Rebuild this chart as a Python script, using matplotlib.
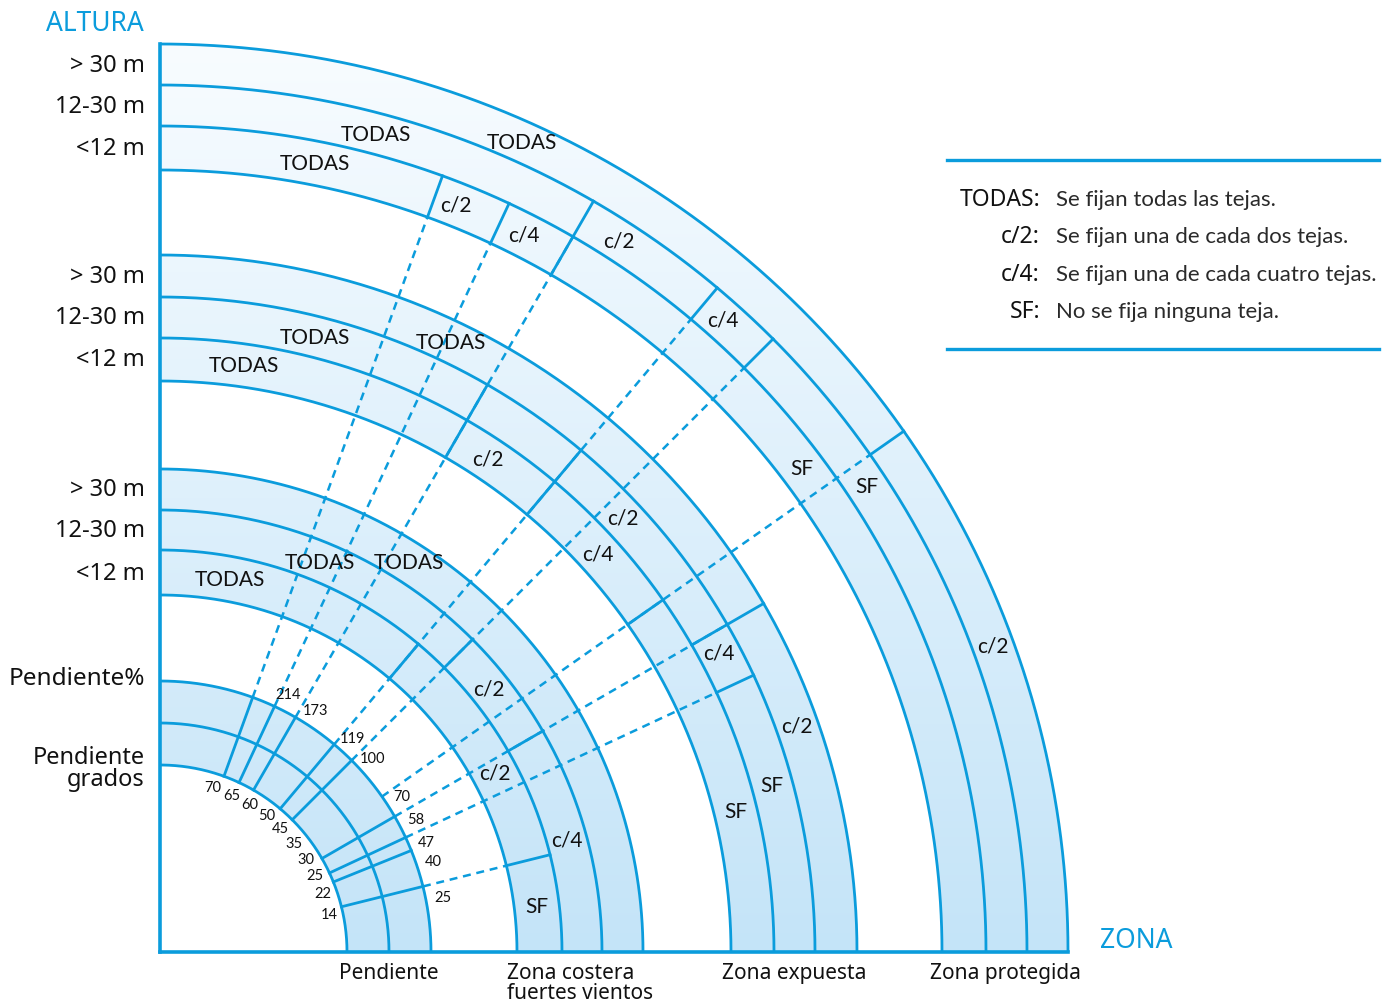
import numpy as np
import matplotlib
matplotlib.use("Agg")
import matplotlib.pyplot as plt
from matplotlib.path import Path
from matplotlib.patches import PathPatch

plt.rcParams['font.family'] = ['Lato', 'DejaVu Sans']
SIDE_FONT = ['Noto Sans', 'DejaVu Sans']

# ---------------- data ----------------
zone_names = ["Pendiente", "Zona costera\nfuertes vientos", "Zona expuesta", "Zona protegida"]
height_names = ["<12 m", "12-30 m", "> 30 m"]
slope_deg = [70, 65, 60, 50, 45, 35, 30, 25, 22, 14]
slope_pct = [214, 173, 119, 100, 70, 58, 47, 40, 25]
pct_deg = [65, 60, 50, 45, 35, 30, 25, 22, 14]
pend_line_deg = [70, 65, 60, 50, 45, 30, 25, 22, 14]

# per zone, per height band (<12, 12-30, >30): slope limits (deg) and class of each slice (from 0 deg upward)
costera_bounds = [[14, 50], [30, 45], []]
costera_classes = [["SF", "c/2", "TODAS"], ["c/4", "c/2", "TODAS"], ["TODAS"]]
expuesta_bounds = [[35, 50, 60], [25, 30, 50, 60], [30]]
expuesta_classes = [["SF", "c/4", "c/2", "TODAS"], ["SF", "c/4", "c/2", "", "TODAS"], ["c/2", "TODAS"]]
protegida_bounds = [[60, 65, 70], [45, 50, 60], [35]]
protegida_classes = [["SF", "c/4", "c/2", "TODAS"], ["SF", "c/4", "c/2", "TODAS"], ["c/2", "TODAS"]]

legend_terms = ["TODAS:", "c/2:", "c/4:", "SF:"]
legend_texts = ["Se fijan todas las tejas.", "Se fijan una de cada dos tejas.",
                "Se fijan una de cada cuatro tejas.", "No se fija ninguna teja."]

# ---------------- layout ----------------
BLUE = "#0b9cdc"
pend_r = [187, 229, 271]
zone_r = [[357, 402, 442, 483], [571, 614, 655, 697], [782, 826, 867, 908]]
zone_bounds = [costera_bounds, expuesta_bounds, protegida_bounds]
zone_classes = [costera_classes, expuesta_classes, protegida_classes]
costera_lab_ang = [[7.0, 28.2, 79.4], [15.4, 38.7, 67.7], [57.5]]
expuesta_lab_ang = [[13.8, 42.3, 56.4, 81.9], [15.3, 28.2, 43.2, None, 75.9], [19.6, 64.5]]
protegida_lab_ang = [[37.0, 63.1, 68.4, 78.9], [33.4, 48.3, 57.2, 75.2], [20.2, 65.9]]
zone_lab_ang = [costera_lab_ang, expuesta_lab_ang, protegida_lab_ang]
deg_label_ang = [72.2, 65.5, 58.6, 52.1, 45.9, 39.2, 32.6, 26.4, 20.1, 12.65]
pct_label_ang = [63.6, 57.3, 48.1, 42.4, 32.9, 27.4, 22.5, 18.4, 11.1]

W, H = 1392, 1003
OX, OY = 160, 953  # origin in pixels
fig = plt.figure(figsize=(W / 100, H / 100), dpi=100)
ax = fig.add_axes([0, 0, 1, 1])
ax.axis('off')


def pol(r, a):
    t = np.radians(a)
    return r * np.cos(t), r * np.sin(t)


def sector_path(r0, r1, n=240):
    t = np.radians(np.linspace(0, 90, n))
    outer = np.c_[r1 * np.cos(t), r1 * np.sin(t)]
    inner = np.c_[r0 * np.cos(t[::-1]), r0 * np.sin(t[::-1])]
    verts = np.concatenate([outer, inner, outer[:1]])
    codes = [Path.MOVETO] + [Path.LINETO] * (len(verts) - 2) + [Path.CLOSEPOLY]
    return Path(verts, codes)


# gradient fill clipped to the bands
paths = [sector_path(pend_r[0], pend_r[-1])] + [sector_path(zr[0], zr[-1]) for zr in zone_r]
comp = Path.make_compound_path(*paths)
clip = PathPatch(comp, transform=ax.transData, facecolor='none', edgecolor='none')
ax.add_patch(clip)
g = np.linspace(0, 1, 256)[:, None, None]
top = np.array([248, 252, 255]) / 255
bot = np.array([196, 228, 248]) / 255
img = top + (bot - top) * g
rmax = zone_r[-1][-1]
im = ax.imshow(img, extent=(0, rmax, 0, rmax), origin='upper', aspect='auto',
               interpolation='bilinear', zorder=1)
im.set_clip_path(clip)

# arcs
t = np.radians(np.linspace(0, 90, 400))
for r in pend_r + [r for zr in zone_r for r in zr]:
    ax.plot(r * np.cos(t), r * np.sin(t), color=BLUE, lw=2.0, zorder=3, solid_capstyle='butt')

# dashed slope lines
for a in slope_deg:
    ends = [zr[i] for zr, zb in zip(zone_r, zone_bounds) for i, b in enumerate(zb) if a in b]
    if not ends:
        continue
    r_end = max(ends)
    x0, y0 = pol(pend_r[-1], a)
    x1, y1 = pol(r_end, a)
    ax.plot([x0, x1], [y0, y1], color=BLUE, lw=1.8, dashes=(3.2, 2.3), zorder=2)

# solid radial limits
for a in pend_line_deg:
    x0, y0 = pol(pend_r[0], a)
    x1, y1 = pol(pend_r[-1], a)
    ax.plot([x0, x1], [y0, y1], color=BLUE, lw=2.0, zorder=3)
for zr, zb in zip(zone_r, zone_bounds):
    for i, b in enumerate(zb):
        for a in b:
            x0, y0 = pol(zr[i], a)
            x1, y1 = pol(zr[i + 1], a)
            ax.plot([x0, x1], [y0, y1], color=BLUE, lw=2.0, zorder=3)

# class labels
for zr, zc, za in zip(zone_r, zone_classes, zone_lab_ang):
    for i in range(3):
        rc = (zr[i] + zr[i + 1]) / 2
        for cls, a in zip(zc[i], za[i]):
            if not cls or a is None:
                continue
            x, y = pol(rc, a)
            ax.text(x, y, cls, fontsize=15, ha='center', va='center', color='#111111', zorder=5)

# slope labels
for v, a in zip(slope_deg, deg_label_ang):
    x, y = pol(173, a)
    ax.text(x, y, str(v), fontsize=10.5, ha='center', va='center', color='#111111', zorder=5)
for v, a in zip(slope_pct, pct_label_ang):
    x, y = pol(288, a)
    ax.text(x, y, str(v), fontsize=10.5, ha='center', va='center', color='#111111', zorder=5)

# axes lines
ax.plot([0, 0], [0, rmax], color=BLUE, lw=2.6, zorder=4, solid_capstyle='projecting')
ax.plot([0, rmax], [0, 0], color=BLUE, lw=2.6, zorder=4, solid_capstyle='projecting')

# left labels
for zr in zone_r:
    for i, name in enumerate(height_names):
        ax.text(-15, (zr[i] + zr[i + 1]) / 2, name, fontsize=17, ha='right', va='center',
                color='#111111', family=SIDE_FONT)
ax.text(-15, pend_r[-1] + 3, "Pendiente%", fontsize=17.5, ha='right', va='center',
        color='#111111', family=SIDE_FONT)
ax.text(-15, pend_r[0] - 3, "Pendiente\ngrados", fontsize=17, ha='right', va='center',
        color='#111111', linespacing=0.9, family=SIDE_FONT)
ax.text(-65, 929, "ALTURA", fontsize=19, ha='center', va='center', color=BLUE, family=SIDE_FONT)
ax.text(976, 12, "ZONA", fontsize=19, ha='center', va='center', color=BLUE, family=SIDE_FONT)

# bottom labels
centers = [(pend_r[0] + pend_r[-1]) / 2] + [(zr[0] + zr[-1]) / 2 for zr in zone_r]
for name, c in zip(zone_names, centers):
    ax.text(c, -10, name, fontsize=15, ha='center', va='top', multialignment='left',
            color='#111111', linespacing=0.95, family=SIDE_FONT)

# legend
ax.plot([787, 1219], [792, 792], color=BLUE, lw=2.4)
ax.plot([787, 1219], [603, 603], color=BLUE, lw=2.4)
for k, (term, desc) in enumerate(zip(legend_terms, legend_texts)):
    y = 753 - k * 37.3
    ax.text(880, y, term, fontsize=16.5, ha='right', va='center', color='#111111',
            fontweight='medium', family=SIDE_FONT)
    ax.text(896, y, desc, fontsize=16, ha='left', va='center', color='#2a2a2a')

ax.set_xlim(-OX, W - OX)
ax.set_ylim(OY - H, OY)
fig.savefig("out.png", dpi=100)
